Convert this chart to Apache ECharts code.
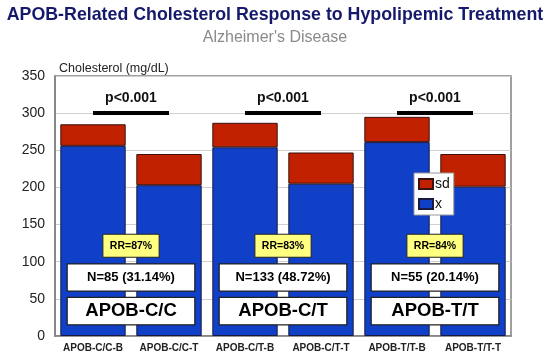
<!DOCTYPE html>
<html><head><meta charset="utf-8">
<script src="https://cdn.jsdelivr.net/npm/echarts@6/dist/echarts.min.js"></script>
<style>html,body{margin:0;padding:0;background:#fff}#c{width:550px;height:356px}</style>
</head><body><div id="c"></div>
<script>
const categories = ['APOB-C/C-B','APOB-C/C-T','APOB-C/T-B','APOB-C/T-T','APOB-T/T-B','APOB-T/T-T'];
const meanValues = [256, 203, 254, 205, 261, 201];
const sdValues = [29, 42, 33, 42, 34, 44];
const groupNames = ['APOB-C/C','APOB-C/T','APOB-T/T'];
const nLabels = ['N=85 (31.14%)','N=133 (48.72%)','N=55 (20.14%)'];
const rrLabels = ['RR=87%','RR=83%','RR=84%'];
const pLabels = ['p<0.001','p<0.001','p<0.001'];
const pLevel = 300;
const yTicks = [0,50,100,150,200,250,300,350];

const FONT = '"Liberation Sans", Arial, sans-serif';
const chart = echarts.init(document.getElementById('c'), null, {renderer:'canvas'});

const pairLines = groupNames.map((g,i)=>[
  {coord:[categories[2*i], pLevel], label:{show:true, formatter:pLabels[i], position:'middle', distance:8, fontFamily:FONT, fontWeight:'bold', fontSize:14, color:'#111'}},
  {coord:[categories[2*i+1], pLevel]}
]);

chart.setOption({
  animation:false,
  title:[
    {text:'APOB-Related Cholesterol Response to Hypolipemic Treatment', left:'center', top:1,
     textStyle:{fontFamily:FONT, fontWeight:'bold', fontSize:17.8, color:'#15196b'}},
    {text:"Alzheimer's Disease", left:'center', top:25,
     textStyle:{fontFamily:FONT, fontWeight:'normal', fontSize:16, color:'#8a8a8a'}},
    {text:'Cholesterol (mg/dL)', left:54, top:57,
     textStyle:{fontFamily:FONT, fontWeight:'normal', fontSize:12.5, color:'#222'}}
  ],
  legend:{
    data:['sd','x'], orient:'vertical', left:414, top:173, icon:'rect',
    backgroundColor:'#fff', borderColor:'#999', borderWidth:1,
    padding:[4,4,4,4], itemGap:6, itemWidth:14, itemHeight:10,
    textStyle:{fontFamily:FONT, fontSize:14, color:'#111', padding:[0,0,0,-3]}
  },
  grid:{left:55, right:39, top:76, bottom:20, show:true, borderColor:'#808080', borderWidth:1.5, backgroundColor:'transparent'},
  xAxis:{type:'category', data:categories,
    axisLine:{show:true, lineStyle:{color:'#808080', width:1.5}}, axisTick:{show:false},
    axisLabel:{fontFamily:FONT, fontWeight:'bold', fontSize:10, color:'#222', margin:7, interval:0}},
  yAxis:{type:'value', min:0, max:350, interval:50,
    axisLine:{show:true, lineStyle:{color:'#808080', width:1.5}}, axisTick:{show:false},
    axisLabel:{fontFamily:FONT, fontSize:14, color:'#222', margin:10},
    splitLine:{lineStyle:{color:'#d0d0d0', width:1}}},
  series:[
    {name:'x', type:'bar', stack:'s', data:meanValues, barCategoryGap:'14%',
     itemStyle:{color:'#1140c8', borderColor:'#1a1a40', borderWidth:1},
     markLine:{symbol:['none','none'], silent:true, lineStyle:{color:'#000', width:4, type:'solid'}, data:pairLines}},
    {name:'sd', type:'bar', stack:'s', data:sdValues,
     itemStyle:{color:'#c22100', borderColor:'#3a1010', borderWidth:1}}
  ]
});

function drawBoxes(){
  const els = [];
  const y = v => chart.convertToPixel({yAxisIndex:0}, v);
  groupNames.forEach((g,i)=>{
    const x1 = chart.convertToPixel({xAxisIndex:0}, categories[2*i]);
    const x2 = chart.convertToPixel({xAxisIndex:0}, categories[2*i+1]);
    const cx = (x1+x2)/2, band = x2-x1;
    const box = (w, vTop, vBot, fill, text, fs, bw) => {
      const t = y(vTop), b = y(vBot);
      els.push({type:'rect', shape:{x:cx-w/2, y:t, width:w, height:b-t},
        style:{fill:fill, stroke:'#222', lineWidth:bw}, z:100});
      els.push({type:'text', x:cx, y:(t+b)/2, style:{text:text, fill:'#000', font:'bold '+fs+'px '+FONT, align:'center', verticalAlign:'middle'}, z:101});
    };
    box(band*1.68, 52, 15, '#fff', g, 18.5, 1.3);
    box(band*1.68, 97, 60.5, '#fff', nLabels[i], 13, 1.3);
    box(band*0.74, 137, 106, '#ffff80', rrLabels[i], 10.5, 1);
  });
  chart.setOption({graphic:els});
}
drawBoxes();
</script></body></html>
